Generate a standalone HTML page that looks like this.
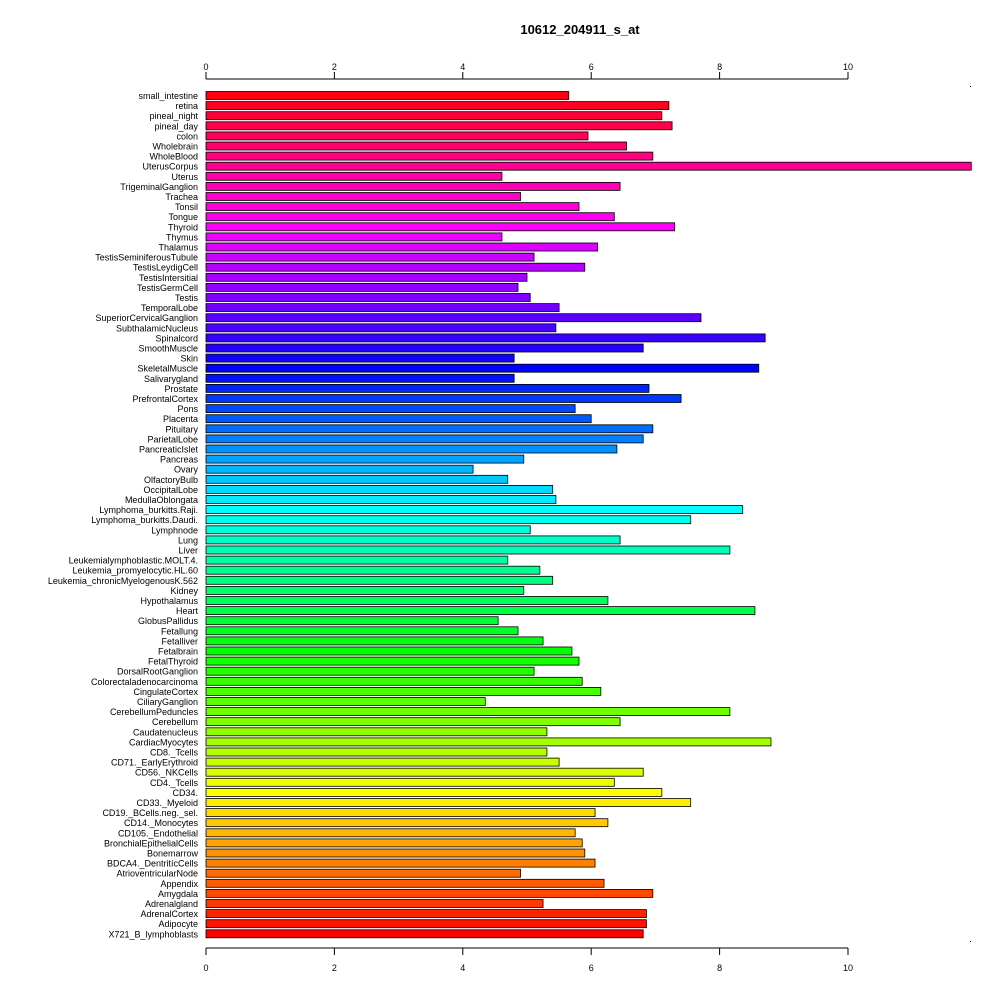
<!DOCTYPE html>
<html><head><meta charset="utf-8"><style>
body{margin:0;background:#fff;}
svg text{font-family:"Liberation Sans",sans-serif;}
</style></head><body>
<svg id="chart" width="1000" height="1000" xmlns="http://www.w3.org/2000/svg">
<rect width="1000" height="1000" fill="#fff"/>
<text x="580" y="34" text-anchor="middle" font-size="13" font-weight="bold">10612_204911_s_at</text>
<g id="axes"></g><g id="bars"></g><g id="labels"></g>
</svg>
<script>
const categories=["small_intestine","retina","pineal_night","pineal_day","colon","Wholebrain","WholeBlood","UterusCorpus","Uterus","TrigeminalGanglion","Trachea","Tonsil","Tongue","Thyroid","Thymus","Thalamus","TestisSeminiferousTubule","TestisLeydigCell","TestisIntersitial","TestisGermCell","Testis","TemporalLobe","SuperiorCervicalGanglion","SubthalamicNucleus","Spinalcord","SmoothMuscle","Skin","SkeletalMuscle","Salivarygland","Prostate","PrefrontalCortex","Pons","Placenta","Pituitary","ParietalLobe","PancreaticIslet","Pancreas","Ovary","OlfactoryBulb","OccipitalLobe","MedullaOblongata","Lymphoma_burkitts.Raji.","Lymphoma_burkitts.Daudi.","Lymphnode","Lung","Liver","Leukemialymphoblastic.MOLT.4.","Leukemia_promyelocytic.HL.60","Leukemia_chronicMyelogenousK.562","Kidney","Hypothalamus","Heart","GlobusPallidus","Fetallung","Fetalliver","Fetalbrain","FetalThyroid","DorsalRootGanglion","Colorectaladenocarcinoma","CingulateCortex","CiliaryGanglion","CerebellumPeduncles","Cerebellum","Caudatenucleus","CardiacMyocytes","CD8._Tcells","CD71._EarlyErythroid","CD56._NKCells","CD4._Tcells","CD34.","CD33._Myeloid","CD19._BCells.neg._sel.","CD14._Monocytes","CD105._Endothelial","BronchialEpithelialCells","Bonemarrow","BDCA4._DentritícCells","AtrioventricularNode","Appendix","Amygdala","Adrenalgland","AdrenalCortex","Adipocyte","X721_B_lymphoblasts"];
const values=[5.65,7.21,7.1,7.26,5.95,6.55,6.96,11.92,4.61,6.45,4.9,5.81,6.36,7.3,4.61,6.1,5.11,5.9,5.0,4.86,5.05,5.5,7.71,5.45,8.71,6.81,4.8,8.61,4.8,6.9,7.4,5.75,6.0,6.96,6.81,6.4,4.95,4.16,4.7,5.4,5.45,8.36,7.55,5.05,6.45,8.16,4.7,5.2,5.4,4.95,6.26,8.55,4.55,4.86,5.25,5.7,5.81,5.11,5.86,6.15,4.35,8.16,6.45,5.31,8.8,5.31,5.5,6.81,6.36,7.1,7.55,6.06,6.26,5.75,5.86,5.9,6.06,4.9,6.2,6.96,5.25,6.86,6.86,6.81];
const ticks=[0,2,4,6,8,10];
const NS="http://www.w3.org/2000/svg";
const x=v=>206+v*64.2;
const yc=i=>95.5+i*10.1;
const n=categories.length;
function mk(tag,attrs,parent){const e=document.createElementNS(NS,tag);for(const k in attrs)e.setAttribute(k,attrs[k]);parent.appendChild(e);return e;}
const gb=document.getElementById('bars'),gl=document.getElementById('labels'),ga=document.getElementById('axes');
categories.forEach((c,i)=>{
  const hue=360*(n-1-i)/n;
  const r=mk('rect',{x:x(0),y:yc(i)-4,width:x(values[i])-x(0),height:8,fill:`hsl(${hue},100%,50%)`,stroke:'#000','stroke-width':0.8},gb);
  
  
  const t=mk('text',{x:198,y:yc(i)+3.5,'text-anchor':'end','font-size':9},gl);
  t.textContent=c;
  
  
});
[[79,-7,70],[948,7,971]].forEach(([ay,d,ly],k)=>{
  const ln=mk('line',{x1:x(0),x2:x(10),y1:ay,y2:ay,stroke:'#000'},ga);
  
  
  ticks.forEach(tv=>{
    mk('line',{x1:x(tv),x2:x(tv),y1:ay,y2:ay+d,stroke:'#000'},ga);
    const t=mk('text',{x:x(tv),y:ly,'text-anchor':'middle','font-size':9},ga);
    t.textContent=tv;
    
    
  });
});
mk('rect',{x:970,y:86,width:1,height:1,fill:'#000'},ga);
mk('rect',{x:970,y:941,width:1,height:1,fill:'#000'},ga);
</script>
</body></html>
